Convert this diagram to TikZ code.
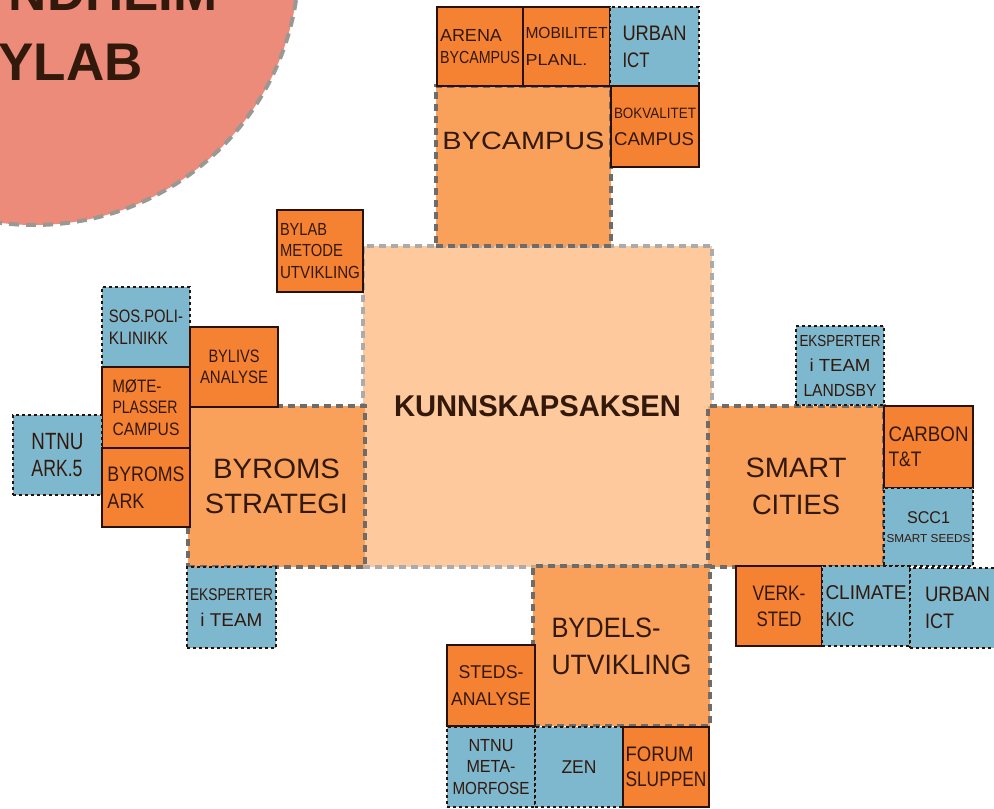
\documentclass[tikz,border=0pt]{standalone}
\usepackage{fontspec}
\usepackage{graphicx}
\setmainfont{Liberation Sans}
\definecolor{dkor}{HTML}{F58232}
\definecolor{midor}{HTML}{F9A05B}
\definecolor{ltor}{HTML}{FDC99D}
\definecolor{blu}{HTML}{7DB8CF}
\definecolor{salmon}{HTML}{EC8B7A}
\definecolor{brd}{HTML}{2B1005}
\definecolor{txt}{HTML}{33180C}
\definecolor{gr}{HTML}{6F6B68}
\definecolor{lgr}{HTML}{ABABAB}
\definecolor{cgr}{HTML}{9B9894}
\newcommand\fs[2]{\fontsize{#1}{#2}\selectfont}
\newcommand\fw[2]{\resizebox{#1pt}{\height}{#2}}
\tikzset{
  box/.style={inner sep=0pt, outer sep=0pt, anchor=north west, text=txt, align=left},
  dkbox/.style={box, fill=dkor, draw=brd, line width=2.6pt},
  blbox/.style={box, fill=blu, draw=brd, line width=2.6pt, dash pattern=on 3pt off 3pt},
  midbox/.style={box, fill=midor, draw=gr, line width=3.5pt, dash pattern=on 7pt off 5pt},
  ltbox/.style={box, fill=ltor, draw=lgr, line width=3.2pt, dash pattern=on 7pt off 5pt},
  sz/.style 2 args={minimum width=#1pt, minimum height=#2pt},
  bigtext/.style={text=txt, inner sep=0pt, font=\bfseries\fs{53}{60}}
}
\begin{document}
\begin{tikzpicture}[x=1pt,y=-1pt]
\clip (0,0) rectangle (994,809);
% circle
\node[circle, fill=salmon, draw=cgr, line width=4pt, dash pattern=on 10pt off 7pt, minimum size=530pt, inner sep=0pt] (circ) at (34,-40) {};
\node[bigtext, anchor=base east] (ndheim) at (218,10) {NDHEIM};
\node[bigtext, anchor=base east] (ylab) at (143,80) {YLAB};
% centre
\node[ltbox, sz={349}{321}, align=center, font=\bfseries\fs{30}{34}] (kunn) at (363,246) {\fw{287}{KUNNSKAPSAKSEN}};
% mid boxes
\node[midbox, sz={175}{160}, font=\fs{25}{37}] (bycampus) at (436,86) {\raisebox{17pt}[0pt][0pt]{\fw{162}{BYCAMPUS}}};
\node[midbox, sz={177}{161}, align=center, font=\fs{28}{35}] (byroms) at (188,406) {\fw{127}{BYROMS}\\\fw{143}{STRATEGI}};
\node[midbox, sz={176}{161}, align=center, font=\fs{28}{37}] (smart) at (708,406) {\fw{101}{SMART}\\\fw{88}{CITIES}};
\node[midbox, sz={177}{160}, font=\fs{28}{37}] (bydels) at (533,566) {\fw{109}{BYDELS-}\\\fw{140}{UTVIKLING}};
% top
\node[dkbox, sz={86}{79}, font=\fs{17.5}{22}] (arena) at (437,7) {\fw{62}{ARENA}\\\fw{80}{BYCAMPUS}};
\node[dkbox, sz={87}{79}, font=\fs{16}{27}] (mobil) at (523,7) {\fw{82}{MOBILITET}\\\fw{62}{PLANL.}};
\node[blbox, sz={89}{79}, font=\fs{21}{27}] (urban1) at (610,7) {\fw{64}{URBAN}\\\fw{27}{ICT}};
\node[dkbox, sz={88}{81}, font=\fs{18.5}{27}] (bokval) at (611,86) {\fw{82}{\fs{15}{27}BOKVALITET}\\\fw{80}{CAMPUS}};
% left
\node[dkbox, sz={86}{82}, font=\fs{17.5}{21.7}] (bylab) at (277,210) {\fw{47}{BYLAB}\\\fw{63}{METODE}\\\fw{80}{UTVIKLING}};
\node[blbox, sz={88}{80}, font=\fs{18}{21.7}] (sos) at (102,287) {\fw{74}{SOS.POLI-}\\\fw{59}{KLINIKK}};
\node[dkbox, sz={88}{80}, align=center, font=\fs{18}{21}] (bylivs) at (190,327) {\fw{51}{BYLIVS}\\\fw{68}{ANALYSE}};
\node[dkbox, sz={88}{81}, font=\fs{18}{21.7}] (mote) at (102,367) {\fw{49}{MØTE-}\\\fw{65}{PLASSER}\\\fw{67}{CAMPUS}};
\node[blbox, sz={89}{80}, font=\fs{23.5}{27}] (ntnuark) at (13,415) {\fw{52}{NTNU}\\\fw{51}{ARK.5}};
\node[dkbox, sz={88}{79}, font=\fs{21}{27}] (byromsark) at (102,448) {\fw{77}{BYROMS}\\\fw{37}{ARK}};
\node[blbox, sz={89}{81}, align=center, font=\fs{18.5}{26}] (eksp1) at (187,567) {\fw{83}{\fs{17}{26}EKSPERTER}\\\fw{62}{i TEAM}};
% right
\node[blbox, sz={88}{79}, align=center, font=\fs{17.5}{25}] (eksp2) at (796,326) {\fw{81}{\fs{16}{25}EKSPERTER}\\\fw{61}{i TEAM}\\\fw{73}{LANDSBY}};
\node[dkbox, sz={89}{82}, font=\fs{21}{25}] (carbon) at (884,406) {\fw{80}{CARBON}\\\fw{33}{T\&T}};
\node[blbox, sz={89}{78}, align=center, font=\fs{17}{18.5}] (scc1) at (884,488) {\fw{43}{SCC1}\\\fw{84}{\fs{11.5}{13}SMART SEEDS}};
\node[dkbox, sz={86}{80}, align=center, font=\fs{21}{26}] (verk) at (736,566) {\fw{53}{VERK-}\\\fw{45}{STED}};
\node[blbox, sz={88}{80}, font=\fs{20}{27}] (climate) at (822,566) {\fw{81}{CLIMATE}\\\fw{29}{KIC}};
\node[blbox, sz={95}{80}, font=\fs{21}{27}] (urban2) at (910,568) {\fw{65}{URBAN}\\\fw{29}{ICT}};
% bottom
\node[dkbox, sz={88}{81}, align=center, font=\fs{18.5}{27}] (steds) at (447,645) {\fw{65}{STEDS-}\\\fw{80}{ANALYSE}};
\node[blbox, sz={88}{80}, align=center, font=\fs{17.5}{21.7}] (ntnumeta) at (447,727) {\fw{45}{NTNU}\\\fw{49}{META-}\\\fw{77}{MORFOSE}};
\node[blbox, sz={88}{80}, align=center, font=\fs{18.5}{22}] (zen) at (535,727) {\fw{35}{ZEN}};
\node[dkbox, sz={86}{80}, font=\fs{21}{25}] (forum) at (623,727) {\fw{68}{FORUM}\\\fw{81}{SLUPPEN}};
\end{tikzpicture}
\end{document}
